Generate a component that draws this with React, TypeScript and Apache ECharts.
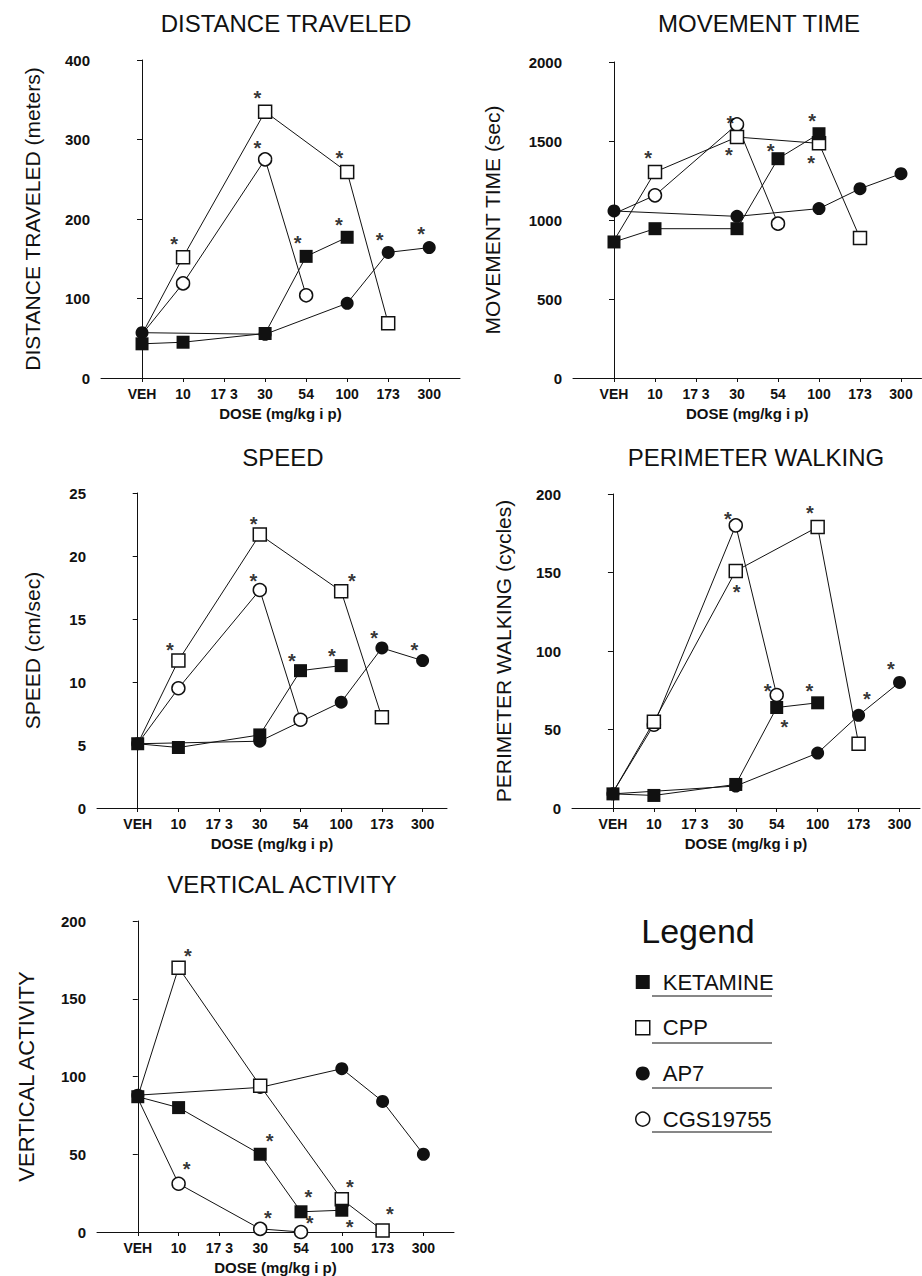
import React, { useEffect, useRef } from "react";
import * as echarts from "echarts";

// ---------- data ----------
const doses = ["VEH", "10", "17 3", "30", "54", "100", "173", "300"];
const drugNames = ["KETAMINE", "CPP", "AP7", "CGS19755"];

// Distance traveled (meters)
const distKetamine = [43, 45, null, 56, 153, 177, null, null];
const distCpp = [55, 152, null, 335, null, 259, 69, null];
const distAp7 = [57, null, null, 55, null, 94, 158, 164];
const distCgs = [55, 119, null, 275, 104, null, null, null];
const distStars = [[0.78, 175], [2.81, 359], [2.81, 295], [3.79, 176], [4.81, 283], [4.8, 199], [5.79, 180], [6.8, 187]];

// Movement time (sec)
const moveKetamine = [861, 945, null, 945, 1388, 1546, null, null];
const moveCpp = [870, 1304, null, 1525, null, 1485, 886, null];
const moveAp7 = [1057, null, null, 1023, null, 1072, 1198, 1293];
const moveCgs = [1040, 1156, null, 1605, 977, null, null, null];
const moveStars = [[0.83, 1424], [2.84, 1648], [2.8, 1445], [3.82, 1468], [4.83, 1658], [4.81, 1394]];

// Speed (cm/sec)
const speedKetamine = [5.1, 4.8, null, 5.8, 10.9, 11.3, null, null];
const speedCpp = [5.1, 11.7, null, 21.7, null, 17.2, 7.2, null];
const speedAp7 = [5.1, null, null, 5.3, null, 8.4, 12.7, 11.7];
const speedCgs = [5.1, 9.5, null, 17.3, 7.0, null, null, null];
const speedStars = [[0.79, 12.9], [2.85, 22.9], [2.84, 18.4], [3.79, 12.1], [4.77, 12.5], [5.26, 18.4], [5.81, 13.9], [6.8, 12.9]];

// Perimeter walking (cycles)
const periKetamine = [9, 8, null, 15, 64, 67, null, null];
const periCpp = [10, 55, null, 151, null, 179, 41, null];
const periAp7 = [9, null, null, 14, null, 35, 59, 80];
const periCgs = [10, 53, null, 180, 72, null, null, null];
const periStars = [[2.81, 187], [3.02, 141], [3.78, 78], [4.19, 55], [4.8, 78], [4.81, 191], [6.2, 72.5], [6.79, 92]];

// Vertical activity
const vertKetamine = [87, 80, null, 50, 13, 14, null, null];
const vertCpp = [87, 170, null, 94, null, 21, 1, null];
const vertAp7 = [88, null, null, 93, null, 105, 84, 50];
const vertCgs = [86, 31, null, 2, 0, null, null, null];
const vertStars = [[1.23, 181], [1.2, 44], [3.23, 62], [3.19, 12], [4.18, 25.5], [4.21, 9], [5.2, 32], [5.19, 6.6], [6.18, 15]];

const panelTitles = ["DISTANCE TRAVELED", "MOVEMENT TIME", "SPEED", "PERIMETER WALKING", "VERTICAL ACTIVITY"];
const yNames = ["DISTANCE TRAVELED (meters)", "MOVEMENT TIME (sec)", "SPEED (cm/sec)", "PERIMETER WALKING (cycles)", "VERTICAL ACTIVITY"];
const yMaxes = [400, 2000, 25, 200, 200];
const yIntervals = [100, 500, 5, 50, 50];
const panelData = [
  { ketamine: distKetamine, cpp: distCpp, ap7: distAp7, cgs: distCgs, stars: distStars },
  { ketamine: moveKetamine, cpp: moveCpp, ap7: moveAp7, cgs: moveCgs, stars: moveStars },
  { ketamine: speedKetamine, cpp: speedCpp, ap7: speedAp7, cgs: speedCgs, stars: speedStars },
  { ketamine: periKetamine, cpp: periCpp, ap7: periAp7, cgs: periCgs, stars: periStars },
  { ketamine: vertKetamine, cpp: vertCpp, ap7: vertAp7, cgs: vertCgs, stars: vertStars },
];
const xAxisName = "DOSE (mg/kg i p)";

// ---------- layout ----------
const grids = [
  { left: 101, top: 60, width: 359, height: 318 },
  { left: 573, top: 62, width: 348.5, height: 316 },
  { left: 97, top: 493, width: 350, height: 315 },
  { left: 572, top: 494, width: 348, height: 314 },
  { left: 97, top: 921, width: 357, height: 313 },
];
const xMaxes = [7.75, 7.5, 7.6, 7.5, 7.75];
const yNameGaps = [58, 70, 54, 58, 60];
const yNameSizes = [21, 21, 21, 21, 22];
const titlePos = [[286, 23], [759, 23], [283, 457], [756, 457], [282, 884]];

const INK = "#111";
const FONT = "'Liberation Sans', Arial, Helvetica, sans-serif";

const styles: Record<string, any> = {
  KETAMINE: { symbol: "rect", itemStyle: { color: INK, borderColor: INK, borderWidth: 0 } },
  CPP: { symbol: "rect", itemStyle: { color: "#fff", borderColor: INK, borderWidth: 1.5 } },
  AP7: { symbol: "circle", itemStyle: { color: INK, borderColor: INK, borderWidth: 0 } },
  CGS19755: { symbol: "circle", itemStyle: { color: "#fff", borderColor: INK, borderWidth: 1.5 } },
};
// open-symbol series share the vehicle marker of the filled series
const hideVehicleMarker: Record<string, boolean> = { CPP: true, CGS19755: true };

function toPairs(values: (number | null)[], hideVeh: boolean) {
  const out: any[] = [];
  values.forEach((v, i) => {
    if (v === null || v === undefined) return;
    if (i === 0 && hideVeh) out.push({ value: [i, v], symbol: "none" });
    else out.push([i, v]);
  });
  return out;
}

function buildOption() {
  const tickValues = doses.map((_, i) => i);
  const xAxis: any[] = [];
  const yAxis: any[] = [];
  const series: any[] = [];
  const graphic: any[] = [];

  grids.forEach((g, i) => {
    xAxis.push({
      type: "value",
      gridIndex: i,
      min: -1,
      max: xMaxes[i],
      axisLine: { show: true, onZero: false, lineStyle: { color: INK, width: 1 } },
      axisTick: { show: true, customValues: tickValues, length: 4, lineStyle: { color: INK, width: 1 } },
      axisLabel: {
        customValues: tickValues,
        formatter: (v: number) => doses[Math.round(v)] ?? "",
        margin: 9,
        fontSize: 14,
        fontWeight: "bold",
        color: INK,
        fontFamily: FONT,
      },
      splitLine: { show: false },
      name: xAxisName,
      nameLocation: "middle",
      nameGap: 28,
      nameTextStyle: { fontSize: 15, fontWeight: "bold", color: INK, fontFamily: FONT },
    });
    yAxis.push({
      type: "value",
      gridIndex: i,
      min: 0,
      max: yMaxes[i],
      interval: yIntervals[i],
      axisLine: { show: true, lineStyle: { color: INK, width: 1 } },
      axisTick: { show: true, length: 5, lineStyle: { color: INK, width: 1 } },
      axisLabel: {
        margin: 11,
        fontSize: 15,
        fontWeight: "bold",
        color: INK,
        fontFamily: FONT,
        formatter: (v: number) => String(v),
      },
      splitLine: { show: false },
      name: yNames[i],
      nameLocation: "middle",
      nameRotate: 90,
      nameGap: yNameGaps[i],
      nameTextStyle: { fontSize: yNameSizes[i], color: INK, fontFamily: FONT },
    });

    const d = panelData[i];
    const order: [string, (number | null)[]][] = [
      ["AP7", d.ap7],
      ["CGS19755", d.cgs],
      ["CPP", d.cpp],
      ["KETAMINE", d.ketamine],
    ];
    order.forEach(([name, vals]) => {
      series.push({
        type: "line",
        name,
        xAxisIndex: i,
        yAxisIndex: i,
        data: toPairs(vals, !!hideVehicleMarker[name]),
        symbol: styles[name].symbol,
        symbolSize: 13,
        itemStyle: styles[name].itemStyle,
        lineStyle: { color: INK, width: 1 },
        showAllSymbol: true,
        silent: true,
      });
    });
    series.push({
      type: "scatter",
      name: "significance",
      xAxisIndex: i,
      yAxisIndex: i,
      data: d.stars,
      symbol: "circle",
      symbolSize: 1,
      itemStyle: { color: "rgba(0,0,0,0)" },
      label: {
        show: true,
        position: "inside",
        formatter: "*",
        fontSize: 20,
        fontWeight: "bold",
        color: "#000",
        offset: [0, 5],
        fontFamily: FONT,
      },
      silent: true,
      z: 5,
    });

    graphic.push({
      type: "text",
      x: titlePos[i][0],
      y: titlePos[i][1],
      style: {
        text: panelTitles[i],
        font: `24px ${FONT}`,
        fill: INK,
        align: "center",
        verticalAlign: "middle",
      },
    });
  });

  // Legend heading and underlines
  graphic.push({
    type: "text",
    x: 698,
    y: 931,
    style: { text: "Legend", font: `34px ${FONT}`, fill: INK, align: "center", verticalAlign: "middle" },
  });
  [996, 1043, 1088, 1132].forEach((y) => {
    graphic.push({
      type: "line",
      shape: { x1: 652, y1: y, x2: 772, y2: y },
      style: { stroke: INK, lineWidth: 1.2 },
    });
  });

  return {
    animation: false,
    backgroundColor: "#fff",
    textStyle: { fontFamily: FONT, color: INK },
    grid: grids.map((g) => ({ ...g, containLabel: false })),
    xAxis,
    yAxis,
    series,
    graphic,
    legend: {
      orient: "vertical",
      left: 635,
      top: 971,
      padding: 0,
      itemWidth: 14,
      itemHeight: 14,
      itemGap: 23.7,
      selectedMode: false,
      textStyle: { fontSize: 22, color: INK, fontFamily: FONT, padding: [0, 0, 0, 8] },
      data: [
        { name: drugNames[0], icon: "rect", itemStyle: { color: INK, borderColor: INK, borderWidth: 0 } },
        { name: drugNames[1], icon: "rect", itemStyle: { color: "#fff", borderColor: INK, borderWidth: 1.5 } },
        { name: drugNames[2], icon: "circle", itemStyle: { color: INK, borderColor: INK, borderWidth: 0 } },
        { name: drugNames[3], icon: "circle", itemStyle: { color: "#fff", borderColor: INK, borderWidth: 1.5 } },
      ],
    },
  };
}

export default function App() {
  const ref = useRef<HTMLDivElement>(null);
  useEffect(() => {
    if (!ref.current) return;
    const chart = echarts.init(ref.current, null, { renderer: "svg" });
    chart.setOption(buildOption() as any);
    return () => chart.dispose();
  }, []);
  return (
    <div
      ref={ref}
      style={{ position: "absolute", left: 0, top: 0, width: 922, height: 1276, background: "#fff" }}
    />
  );
}
